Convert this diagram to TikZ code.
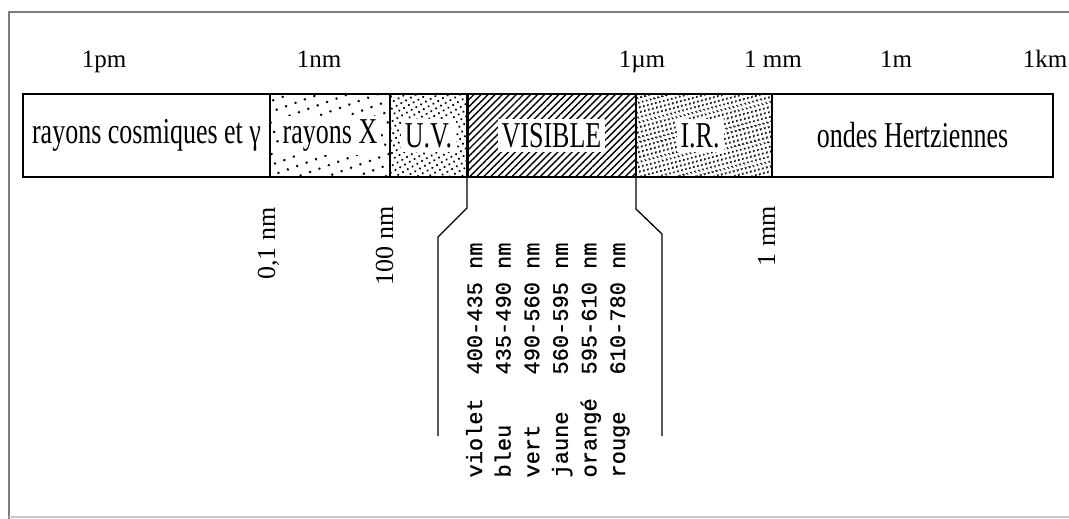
\documentclass[tikz,border=0pt]{standalone}
\usepackage{fontspec}
\setmainfont{Liberation Serif}
\newfontfamily\tablefont{Liberation Mono}[FakeBold=0.8]
\usepackage{graphicx}
\usepackage{tikz}
\usetikzlibrary{positioning, patterns.meta}
\definecolor{framegray}{HTML}{7C7C7C}
\definecolor{framelight}{HTML}{C8C8C8}
\newcommand{\vstretch}[1]{\scalebox{1}[1.4]{#1}}

\begin{document}
\begin{tikzpicture}[
    x=1pt, y=-1pt,
    node distance=0pt,
    seg/.style={draw, line width=1.2pt, minimum height=83pt, inner sep=0pt, outer sep=0pt,
      font=\fontsize{26}{28}\selectfont},
    bandlbl/.style={fill=white, inner sep=4pt, font=\fontsize{26}{28}\selectfont},
    toplbl/.style={anchor=base, font=\fontsize{25}{27}\selectfont},
    bound/.style={rotate=90, anchor=base east, font=\fontsize{26}{28}\selectfont},
    col/.style={rotate=90, anchor=base west, font=\tablefont\fontsize{22}{24}\selectfont},
    brace/.style={line width=1.3pt}
  ]
    \useasboundingbox (0,0) rectangle (1069,519);
    \draw[framegray, line width=1.6pt] (9,519) -- (9,12) -- (1069,12);
    \draw[framelight, line width=1.4pt] (9,517) -- (1069,517);

    \node[seg, minimum width=247pt] (cosm) at (146.5,135.5) {\vstretch{rayons cosmiques et γ}};
    \node[seg, minimum width=120pt, right=of cosm, pattern={Dots[distance=10pt, radius=1.4pt, angle=20]},
      label={[bandlbl]center:\vstretch{rayons X}}] (xray) {};
    \node[seg, minimum width=77pt, right=of xray, pattern={Dots[distance=5.5pt, radius=1.2pt, angle=30]},
      label={[bandlbl]center:\vstretch{U.V.}}] (uv) {};
    \node[seg, minimum width=169pt, right=of uv, pattern={Lines[angle=45, distance=5pt, line width=1.4pt]},
      label={[bandlbl]center:\vstretch{VISIBLE}}] (vis) {};
    \node[seg, minimum width=136pt, right=of vis, pattern={Dots[distance=4pt, radius=1.2pt, angle=15]},
      label={[bandlbl, xshift=-4pt]center:\vstretch{I.R.}}] (ir) {};
    \node[seg, minimum width=281pt, right=of ir] (hertz) {\vstretch{ondes Hertziennes}};
    \draw[line width=2pt] (cosm.north west) rectangle (hertz.south east);
    \draw[line width=3pt] (vis.north west) -- (vis.south west);

    \node[toplbl] (pm) at (104,67) {1pm};
    \node[toplbl] (nm) at (319,67) {1nm};
    \node[toplbl] (um) at (642,67) {1µm};
    \node[toplbl] (mm) at (773,67) {1 mm};
    \node[toplbl] (m) at (896,67) {1m};
    \node[toplbl] (km) at (1045,67) {1km};

    \node[bound] (xlow) at (275,204) {0,1 nm};
    \node[bound] (uvlow) at (393,203) {100 nm};
    \node[bound] (irhigh) at (775,203) {1 mm};

    \draw[brace] (vis.south west) -- ++(0,31) -- ++(-29,29) -- ++(0,199);
    \draw[brace] (vis.south east) -- ++(0,32) -- ++(26,25) -- ++(0,202);

    \node[col] (violet) at (482,481) {violet};
    \node[col] (violetnm) at (482,378) {400-435 nm};
    \node[col] (bleu) at (510.6,481) {bleu};
    \node[col] (bleunm) at (510.6,378) {435-490 nm};
    \node[col] (vert) at (539.2,481) {vert};
    \node[col] (vertnm) at (539.2,378) {490-560 nm};
    \node[col] (jaune) at (567.8,481) {jaune};
    \node[col] (jaunenm) at (567.8,378) {560-595 nm};
    \node[col] (orange) at (596.4,481) {orangé};
    \node[col] (orangenm) at (596.4,378) {595-610 nm};
    \node[col] (rouge) at (625,481) {rouge};
    \node[col] (rougenm) at (625,378) {610-780 nm};
  \end{tikzpicture}
\end{document}
